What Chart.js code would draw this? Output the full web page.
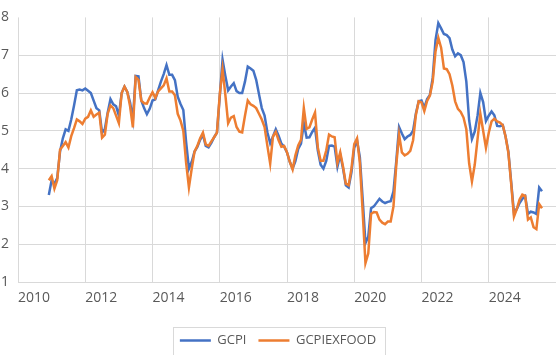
<!DOCTYPE html>
<html><head><meta charset="utf-8">
<script src="https://cdn.jsdelivr.net/npm/chart.js@4.4.1/dist/chart.umd.min.js"></script>
<style>html,body{margin:0;padding:0;background:#fff}canvas{display:block}</style>
</head><body>
<canvas id="c" width="559" height="355"></canvas>
<script>
// Monthly series, first observation December 2010
const startYear = 2010;
const startMonth = 12;

const gcpi = [
 3.30,3.69,3.60,3.75,4.45,4.80,5.04,5.00,5.30,5.67,6.07,6.09,
 6.07,6.12,6.06,6.00,5.80,5.60,5.54,4.95,5.05,5.48,5.84,5.70,
 5.65,5.40,6.00,6.17,6.03,5.75,5.30,6.45,6.44,5.80,5.60,5.44,
 5.58,5.80,5.83,6.07,6.30,6.50,6.74,6.48,6.48,6.34,5.90,5.71,
 5.55,4.70,4.00,4.18,4.45,4.57,4.76,4.90,4.60,4.56,4.68,4.83,
 4.95,5.90,6.88,6.45,6.07,6.17,6.26,6.05,6.00,6.00,6.30,6.70,
 6.65,6.59,6.35,5.97,5.60,5.40,4.96,4.67,4.85,5.04,4.87,4.66,
 4.58,4.43,4.18,4.00,4.20,4.52,4.66,5.20,4.82,4.83,4.97,5.08,
 4.48,4.10,4.00,4.20,4.60,4.61,4.58,4.05,4.37,4.00,3.56,3.50,
 3.90,4.55,4.74,4.30,3.20,2.03,2.20,2.95,3.00,3.10,3.20,3.13,
 3.09,3.12,3.14,3.40,4.20,5.10,4.93,4.78,4.85,4.89,5.00,5.46,
 5.78,5.80,5.61,5.84,5.95,6.40,7.40,7.85,7.71,7.56,7.53,7.45,
 7.15,6.97,7.05,7.00,6.82,6.30,5.28,4.78,4.98,5.40,6.00,5.76,
 5.26,5.40,5.51,5.41,5.13,5.12,5.15,4.85,4.45,3.65,2.82,2.93,
 3.09,3.20,3.27,2.80,2.86,2.84,2.80,3.50,3.40
];

const gcpiExFood = [
 3.69,3.80,3.47,3.69,4.50,4.60,4.70,4.56,4.86,5.07,5.30,5.25,
 5.18,5.32,5.37,5.54,5.37,5.43,5.48,4.82,4.90,5.45,5.67,5.60,
 5.40,5.20,6.00,6.17,6.03,5.65,5.09,6.42,6.35,5.80,5.73,5.72,
 5.88,6.02,5.87,6.04,6.12,6.20,6.39,6.04,6.04,5.94,5.45,5.27,
 5.00,4.15,3.50,4.00,4.45,4.60,4.80,4.95,4.64,4.60,4.72,4.83,
 4.95,5.96,6.63,5.95,5.20,5.35,5.39,5.10,4.98,4.96,5.40,5.80,
 5.70,5.66,5.60,5.45,5.30,5.10,4.60,4.13,4.85,4.97,4.75,4.58,
 4.60,4.43,4.18,3.98,4.35,4.61,4.76,5.60,5.05,5.09,5.30,5.48,
 4.56,4.21,4.21,4.48,4.90,4.85,4.83,4.15,4.43,4.05,3.60,3.56,
 4.00,4.65,4.80,4.15,2.86,1.50,1.75,2.80,2.85,2.84,2.65,2.57,
 2.53,2.60,2.60,3.00,4.10,4.90,4.43,4.35,4.39,4.47,4.75,5.42,
 5.78,5.75,5.52,5.79,5.93,6.30,7.10,7.46,7.20,6.65,6.63,6.50,
 6.20,5.78,5.58,5.50,5.35,5.04,4.14,3.66,4.10,4.78,5.45,5.00,
 4.55,4.95,5.25,5.32,5.25,5.22,5.15,4.85,4.42,3.60,2.73,2.93,
 3.18,3.31,3.28,2.65,2.71,2.45,2.40,3.06,2.95
];

const xTickLabels = [2010, 2012, 2014, 2016, 2018, 2020, 2022, 2024];
const yTickLabels = [1, 2, 3, 4, 5, 6, 7, 8];
const seriesNames = ['GCPI', 'GCPIEXFOOD'];

const toPoints = arr => arr.map((v, i) => ({ x: startYear + (startMonth - 1 + i) / 12, y: v }));

const GRID = '#d9d9d9';
const TXT = '#595959';
const FONT = 'Open Sans';

const legendBox = {
  id: 'legendBox',
  afterDraw(chart) {
    const boxes = chart.legend && chart.legend.legendHitBoxes;
    if (!boxes || !boxes.length) return;
    let l = Infinity, r = -Infinity, cy = 0;
    boxes.forEach(b => { l = Math.min(l, b.left); r = Math.max(r, b.left + b.width); cy += b.top + b.height / 2; });
    cy /= boxes.length;
    const c = chart.ctx;
    c.save();
    c.strokeStyle = GRID;
    c.lineWidth = 1;
    c.strokeRect(Math.round(l - 7) + 0.5, Math.round(cy - 14) + 0.5, Math.round(r - l + 16), 28);
    c.restore();
  }
};

new Chart(document.getElementById('c').getContext('2d'), {
  type: 'line',
  data: {
    datasets: [
      { label: seriesNames[0], data: toPoints(gcpi), borderColor: '#4472C4', backgroundColor: '#4472C4',
        borderWidth: 2.5, pointRadius: 0, tension: 0, order: 1 },
      { label: seriesNames[1], data: toPoints(gcpiExFood), borderColor: '#ED7D31', backgroundColor: '#ED7D31',
        borderWidth: 2.5, pointRadius: 0, tension: 0, order: 0 }
    ]
  },
  options: {
    responsive: false,
    animation: false,
    devicePixelRatio: 1,
    layout: { padding: { top: 11, right: 3, left: 0, bottom: -2 } },
    plugins: {
      legend: {
        position: 'bottom',
        labels: {
          sort: (a, b) => a.datasetIndex - b.datasetIndex,
          usePointStyle: true, pointStyle: 'line', pointStyleWidth: 31,
          boxHeight: 13, padding: 12, color: TXT,
          font: { family: FONT, size: 13 }
        }
      },
      tooltip: { enabled: false }
    },
    scales: {
      x: {
        type: 'linear', min: 2010, max: 2026,
        afterBuildTicks: s => { s.ticks = xTickLabels.map(v => ({ value: v })).concat([{ value: 2026 }]); },
        ticks: {
          align: 'start', padding: 8, maxRotation: 0, autoSkip: false, color: TXT,
          font: { family: FONT, size: 14 },
          callback: v => xTickLabels.includes(v) ? String(v) : null
        },
        grid: { color: c => (c.tick && c.tick.value === 2026) ? 'rgba(0,0,0,0)' : GRID, drawTicks: false, lineWidth: 1 },
        border: { display: false },
        afterFit: s => { s.height = 40; }
      },
      y: {
        min: 1, max: 8,
        afterBuildTicks: s => { s.ticks = yTickLabels.map(v => ({ value: v })); },
        ticks: { padding: 9, color: TXT, font: { family: FONT, size: 14 } },
        grid: { color: c => (c.tick && c.tick.value === 8) ? 'rgba(0,0,0,0)' : GRID, drawTicks: false, lineWidth: 1 },
        border: { display: false },
        afterFit: s => { s.width = 18; }
      }
    }
  },
  plugins: [legendBox]
});
</script>
</body></html>
